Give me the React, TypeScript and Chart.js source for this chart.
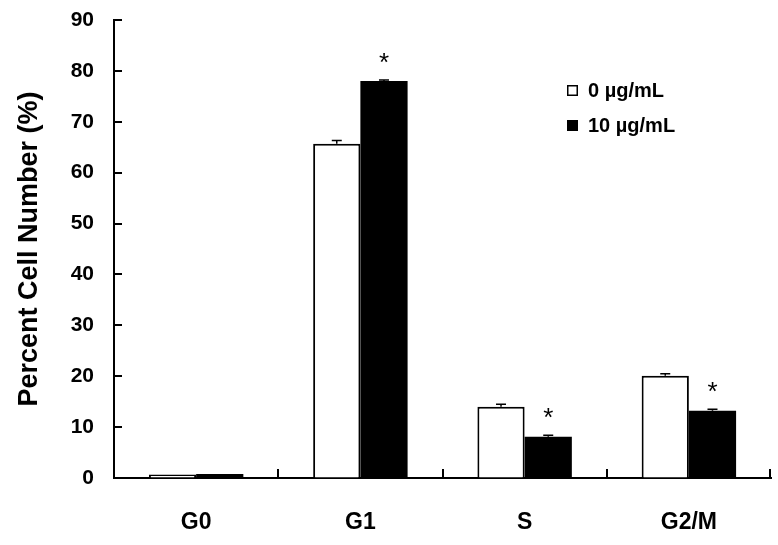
import React, { useEffect, useRef } from 'react';
import { Chart, registerables } from 'chart.js';

Chart.register(...registerables);

const categories = ['G0', 'G1', 'S', 'G2/M'];
const seriesLabels = ['0 µg/mL', '10 µg/mL'];
const control = [0.7, 65.7, 14.0, 20.1];
const treated = [0.8, 78.0, 8.1, 13.2];
const controlErr = [0, 0.6, 0.5, 0.4];
const treatedErr = [0, 0.2, 0.3, 0.3];
const significant = [false, true, true, true];
const yTickValues = [0, 10, 20, 30, 40, 50, 60, 70, 80, 90];
const yTitle = 'Percent Cell Number (%)';

const FONT = "'Liberation Sans', Arial, Helvetica, sans-serif";

const decorPlugin = {
  id: 'decor',
  afterDatasetsDraw(chart: any) {
    const { ctx, chartArea } = chart;
    const xs = chart.scales.x;
    const ys = chart.scales.y;
    ctx.save();
    ctx.strokeStyle = '#000';
    ctx.fillStyle = '#000';

    // inward y ticks
    ctx.lineWidth = 2;
    yTickValues.forEach((v) => {
      const py = Math.round(ys.getPixelForValue(v));
      ctx.beginPath();
      ctx.moveTo(chartArea.left, py);
      ctx.lineTo(chartArea.left + 8, py);
      ctx.stroke();
    });

    // inward x ticks at category boundaries
    const cw = (xs.right - xs.left) / categories.length;
    for (let k = 1; k <= categories.length; k++) {
      const px = Math.round(xs.left + k * cw) - (k === categories.length ? 1 : 0);
      ctx.beginPath();
      ctx.moveTo(px, chartArea.bottom);
      ctx.lineTo(px, chartArea.bottom - 9);
      ctx.stroke();
    }

    // error bars
    const errs = [controlErr, treatedErr];
    const vals = [control, treated];
    ctx.lineWidth = 1.5;
    chart.data.datasets.forEach((_ds: any, di: number) => {
      const meta = chart.getDatasetMeta(di);
      meta.data.forEach((el: any, i: number) => {
        const e = errs[di][i];
        if (!e) return;
        const top = ys.getPixelForValue(vals[di][i] + e);
        ctx.beginPath();
        ctx.moveTo(el.x, el.y);
        ctx.lineTo(el.x, top);
        ctx.moveTo(el.x - 5, top);
        ctx.lineTo(el.x + 5, top);
        ctx.stroke();
      });
    });

    // significance asterisks
    const meta1 = chart.getDatasetMeta(1);
    ctx.font = `26px ${FONT}`;
    ctx.textAlign = 'center';
    ctx.textBaseline = 'alphabetic';
    significant.forEach((s, i) => {
      if (!s) return;
      const el = meta1.data[i];
      const top = ys.getPixelForValue(treated[i] + treatedErr[i]);
      ctx.fillText('*', el.x, top - 9);
    });

    // legend
    const lx = chartArea.right - 204;
    const ly = chartArea.top + 65;
    ctx.font = `bold 20px ${FONT}`;
    ctx.textAlign = 'left';
    ctx.textBaseline = 'middle';
    seriesLabels.forEach((lab, i) => {
      const y = ly + i * 35;
      if (i === 0) {
        ctx.fillStyle = '#fff';
        ctx.fillRect(lx, y, 11, 11);
        ctx.lineWidth = 1.5;
        ctx.strokeStyle = '#000';
        ctx.strokeRect(lx + 0.75, y + 0.75, 9.5, 9.5);
      } else {
        ctx.fillStyle = '#000';
        ctx.fillRect(lx, y, 11, 11);
      }
      ctx.fillStyle = '#000';
      ctx.fillText(lab, lx + 21, y + 6);
    });
    ctx.restore();
  },
};

export default function App() {
  const ref = useRef<HTMLCanvasElement | null>(null);

  useEffect(() => {
    document.body.style.margin = '0';
    const canvas = ref.current;
    if (!canvas) return;
    const chart = new Chart(canvas, {
      type: 'bar',
      data: {
        labels: categories,
        datasets: [
          {
            label: seriesLabels[0],
            data: control,
            backgroundColor: '#ffffff',
            borderColor: '#000000',
            borderWidth: 2,
            categoryPercentage: 0.575,
            barPercentage: 1.0,
          },
          {
            label: seriesLabels[1],
            data: treated,
            backgroundColor: '#000000',
            borderColor: '#000000',
            borderWidth: 0,
            categoryPercentage: 0.575,
            barPercentage: 1.0,
          },
        ],
      },
      options: {
        animation: false,
        responsive: false,
        devicePixelRatio: 1,
        layout: { padding: { top: 20, right: 7, left: 0, bottom: 0 } },
        plugins: {
          legend: { display: false },
          tooltip: { enabled: false },
        },
        scales: {
          x: {
            type: 'category',
            offset: true,
            grid: { drawOnChartArea: false, drawTicks: false },
            border: { display: true, color: '#000', width: 2 },
            ticks: {
              color: '#000',
              font: { family: FONT, size: 23, weight: 'bold' },
              padding: 31,
              maxRotation: 0,
            },
            afterFit: (s: any) => {
              s.height = 67;
              s.paddingLeft = 0;
              s.paddingRight = 0;
            },
          },
          y: {
            min: 0,
            max: 90,
            grid: { drawOnChartArea: false, drawTicks: false },
            border: { display: true, color: '#000', width: 2 },
            ticks: {
              stepSize: 10,
              color: '#000',
              font: { family: FONT, size: 21, weight: 'bold' },
              padding: 20,
            },
            title: {
              display: true,
              text: yTitle,
              color: '#000',
              font: { family: FONT, size: 27, weight: 'bold' },
              padding: { top: 13, bottom: 0 },
            },
            afterFit: (s: any) => {
              s.width = 114;
              s.paddingTop = 0;
              s.paddingBottom = 0;
            },
          },
        },
      },
      plugins: [decorPlugin],
    } as any);
    return () => chart.destroy();
  }, []);

  return (
    <div style={{ width: 778, height: 545, background: '#fff' }}>
      <canvas ref={ref} width={778} height={545} style={{ display: 'block' }} />
    </div>
  );
}
